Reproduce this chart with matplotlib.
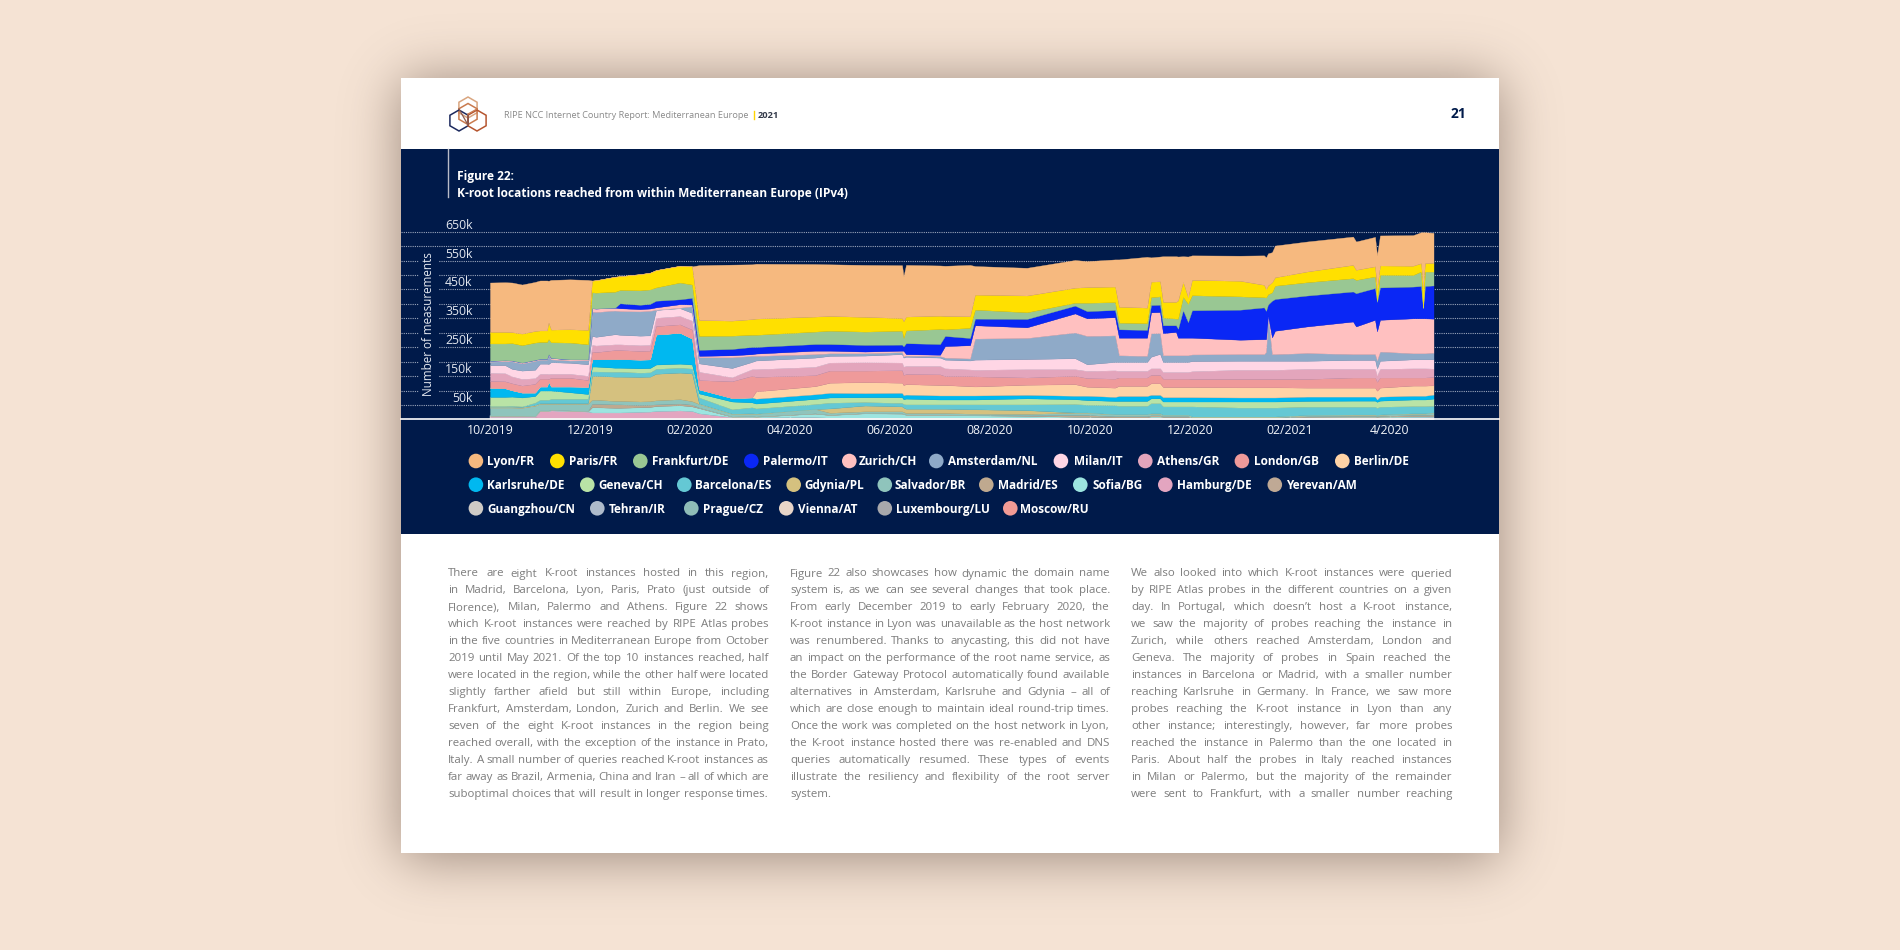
import math
import numpy as np
import matplotlib
matplotlib.use("Agg")
import matplotlib.pyplot as plt
from matplotlib.patches import Rectangle, Circle, RegularPolygon

plt.rcParams['font.family'] = ['Open Sans', 'DejaVu Sans']

# ---------- data (thousands of measurements; x = months since 10/2019) ----------
months = [0, .3, .44, .64, .9, 1.0, 1.14, 1.17, 1.22, 1.6,
          1.96, 2.04, 2.12, 2.5, 2.6, 3.0, 3.2, 3.32, 3.8, 4.04,
          4.18, 4.84, 5.24, 5.32, 6.5, 6.8, 7.5, 8.24, 8.27, 8.32,
          9.0, 9.1, 9.6, 9.7, 10.74, 11.7, 11.94, 12.5, 12.58, 13.14,
          13.22, 13.4, 13.46, 13.72, 13.76, 13.86, 13.96, 14.04, 15.0, 15.48,
          15.52, 15.56, 15.64, 15.7, 16.34, 17.26, 17.32, 17.7, 17.74, 17.8,
          18.46, 18.62, 18.66, 18.7, 18.87]

lyon = [171,172,172,170,170,173,173,144,172,173,
        173,1,0,0,0,0,0,0,0,0,
        190,194,190,190,182,179,180,183,156,179,
        174,174,178,99,96,96,90,94,164,176,
        84,86,158,158,152,89,141,85,87,102,
        110,111,104,110,104,98,98,102,115,104,
        106,107,188,107,104]
paris = [40,40,38,40,40,40,40,58,44,46,
         50,40,43,52,48,56,58,60,58,63,
         55,52,54,56,52,51,51,44,58,48,
         46,46,40,52,58,52,54,54,55,54,
         54,52,54,58,63,52,23,53,54,43,
         29,31,35,29,37,46,35,35,40,32,
         32,29,73,29,30]
frankfurt = [60,58,60,60,60,58,58,52,54,58,
             52,55,55,55,46,50,50,46,58,46,
             48,46,42,42,43,46,46,48,29,44,
             52,23,35,31,23,10,29,27,23,23,
             27,29,27,23,35,46,63,52,46,35,
             46,35,29,46,46,46,46,40,6,44,
             40,50,2,50,48]
palermo = [0,0,0,0,0,0,0,0,0,0,
           0,0,0,0,17,15,16,23,17,23,
           21,22,25,23,23,23,23,21,15,38,
           37,35,25,23,29,27,25,25,29,27,
           25,25,27,23,31,95,54,95,104,110,
           98,40,127,110,107,104,115,110,102,112,
           110,112,35,112,115]
zurich = [3,3,3,3,3,3,3,3,5,4,
          3,12,12,10,10,8,8,8,12,6,
          5,7,6,8,12,9,6,5,20,5,
          5,40,46,46,37,66,61,63,61,63,
          73,73,77,81,61,61,61,58,50,52,
          44,2,58,81,92,113,96,119,100,110,
          121,121,121,121,118]
amsterdam = [12,14,26,25,31,14,14,31,10,8,
             14,84,86,82,82,84,85,1,2,23,
             21,37,21,16,12,9,8,7,4,4,
             5,7,7,73,73,89,98,92,23,21,
             81,72,23,23,23,23,23,23,23,23,
             31,153,23,23,27,20,20,20,29,32,
             21,21,21,21,23]
milan = [27,28,26,29,29,35,35,35,40,38,
         40,31,30,35,33,33,33,27,27,27,
         29,32,25,30,32,23,23,29,31,32,
         29,30,31,35,35,38,23,29,31,31,
         40,50,35,35,35,35,35,35,31,31,
         31,31,31,31,28,31,31,31,23,28,
         31,31,31,31,32]
athens = [28,28,24,23,20,17,17,17,14,14,
          15,23,23,20,20,20,20,29,29,31,
          29,14,23,27,29,28,29,27,29,28,
          29,27,23,23,29,23,25,29,23,23,
          23,23,23,23,23,23,23,27,32,32,
          32,32,32,32,35,30,30,30,23,30,
          32,32,32,32,29]
london = [23,24,24,24,30,27,27,8,30,30,
          23,27,25,31,31,30,30,29,29,31,
          32,58,75,50,38,42,40,43,35,35,
          37,31,35,35,25,29,30,31,29,29,
          29,29,29,29,29,29,29,28,29,29,
          29,29,29,29,30,35,35,35,31,35,
          28,28,28,28,29]
berlin = [0,0,0,0,0,0,0,0,0,0,
          0,0,0,0,0,0,0,0,0,0,
          0,0,0,25,28,35,38,35,35,36,
          36,36,32,31,35,40,31,32,35,35,
          40,40,35,35,35,35,35,35,35,35,
          35,35,35,35,31,31,31,31,30,31,
          35,35,35,35,32]
karlsruhe = [32,30,22,17,12,14,14,32,14,20,
             25,25,25,30,30,30,30,104,107,90,
             14,12,17,17,16,16,14,15,14,14,
             14,14,14,14,12,12,15,14,17,17,
             12,12,15,15,15,15,15,15,14,14,
             14,14,14,14,15,14,14,14,8,14,
             13,13,13,13,14]
geneva = [32,32,32,31,23,32,32,32,29,23,
          17,17,17,14,14,15,15,15,14,14,
          14,27,17,17,18,18,17,20,17,20,
          17,17,17,17,21,17,16,15,17,17,
          17,17,17,17,17,17,17,17,21,21,
          21,21,21,21,20,21,21,21,21,21,
          23,23,23,23,25]
barcelona = [2,2,3,2,8,12,12,12,15,15,
             15,15,15,17,17,15,15,17,17,17,
             21,15,21,18,17,20,12,12,12,15,
             15,15,17,17,20,29,27,31,29,29,
             35,35,29,29,29,29,29,35,31,31,
             31,31,31,31,29,27,27,27,25,27,
             25,25,25,25,23]
gdynia = [3,3,3,3,3,2,2,2,2,2,
          2,83,83,84,84,85,85,92,92,96,
          2,1,1,1,0,15,20,17,15,15,
          15,15,15,15,13,1,1,1,1,1,
          1,1,1,1,1,1,1,1,1,1,
          1,1,1,1,1,1,1,1,1,1,
          1,1,1,1,1]
salvador = [28,28,28,27,35,23,23,23,21,23,
            25,14,14,12,12,12,12,14,15,12,
            12,9,9,9,15,7,6,7,7,5,
            5,5,5,5,5,8,8,6,6,6,
            6,6,4,4,4,4,4,2,2,2,
            2,2,2,2,3,4,4,4,3,4,
            5,5,5,5,6]
madrid = [2,2,2,2,1,1,1,1,1,1,
          1,12,12,12,12,8,8,6,6,6,
          2,1,1,1,1,1,1,1,1,1,
          1,1,1,1,2,6,6,4,4,4,
          4,4,3,3,3,3,3,2,2,2,
          2,2,2,2,3,3,3,3,3,3,
          4,4,4,4,5]
sofia = [1,1,1,1,1,1,1,1,1,1,
         1,18,18,16,16,16,16,17,18,16,
         18,1,2,2,12,9,15,14,12,10,
         10,10,8,8,5,3,3,2,2,2,
         3,3,2,2,2,2,2,1,1,1,
         1,1,1,1,2,2,2,2,2,2,
         3,3,3,3,3]
hamburg = [3,3,3,3,3,23,23,23,25,23,
           21,20,20,20,20,22,23,25,27,25,
           16,1,2,2,2,1,1,1,1,1,
           1,1,1,1,2,2,2,1,1,1,
           1,1,1,1,1,1,1,1,1,1,
           1,1,1,1,1,2,2,2,1,2,
           2,2,2,2,3]
yerevan = [1,1,1,1,1,1,1,1,1,1,1,1,1,1,1,1,1,1,1,1,1,1,
           1,1,1,1,1,1,1,1,1,1,1,1,1,1,1,1,1,1,1,1,1,1,
           1,1,1,1,1,1,1,1,1,1,1,1,1,1,1,1,1,1,1,1,1]
guangzhou = [1,1,1,1,1,1,1,1,1,1,1,1,1,1,1,1,1,1,1,1,1,1,
             1,1,1,1,1,1,1,1,1,1,1,1,1,1,1,1,1,1,1,1,1,1,
             1,1,1,1,1,1,1,1,1,1,1,1,1,1,1,1,1,1,1,1,1]
tehran = [1,1,1,1,1,1,1,1,1,1,1,1,1,1,1,1,1,1,1,1,1,1,
          1,1,1,1,1,1,1,1,1,1,1,1,1,1,1,1,1,1,1,1,1,1,
          1,1,1,1,1,1,1,1,1,1,1,1,1,1,1,1,1,1,1,1,1]
prague = [1,1,1,1,1,1,1,1,1,1,1,1,1,1,1,1,1,1,1,1,1,1,
          1,1,1,1,1,1,1,1,1,1,1,1,1,1,1,1,1,1,1,1,1,1,
          1,1,1,0,0,0,0,0,0,0,1,1,1,1,1,1,1,1,1,1,1]
vienna = [1,1,1,1,1,1,1,1,1,1,1,0,0,0,0,0,0,0,0,0,1,1,
          1,1,1,1,1,1,1,1,1,1,1,1,1,0,0,0,0,0,1,1,1,1,
          1,1,1,0,0,0,0,0,0,0,1,1,1,1,1,1,1,1,1,1,1]
luxembourg = [1,1,1,1,1,1,1,1,1,1,1,0,0,0,0,0,0,0,0,0,0,1,
              1,0,1,0,0,0,0,0,0,0,0,0,0,0,0,0,0,0,1,1,0,0,
              0,0,0,0,0,0,0,0,0,0,0,0,0,0,0,0,1,1,1,1,1]
moscow = [1,1,1,1,1,0,0,0,0,0,0,0,0,0,0,0,0,0,0,0,0,1,
          0,0,0,0,0,0,0,0,0,0,0,0,0,0,0,0,0,0,0,0,0,0,
          0,0,0,0,0,0,0,0,0,0,0,0,0,0,0,0,0,0,0,0,0]

names = ['Lyon/FR','Paris/FR','Frankfurt/DE','Palermo/IT','Zurich/CH','Amsterdam/NL','Milan/IT',
         'Athens/GR','London/GB','Berlin/DE','Karlsruhe/DE','Geneva/CH','Barcelona/ES','Gdynia/PL',
         'Salvador/BR','Madrid/ES','Sofia/BG','Hamburg/DE','Yerevan/AM','Guangzhou/CN','Tehran/IR',
         'Prague/CZ','Vienna/AT','Luxembourg/LU','Moscow/RU']
series = [lyon,paris,frankfurt,palermo,zurich,amsterdam,milan,athens,london,berlin,karlsruhe,geneva,
          barcelona,gdynia,salvador,madrid,sofia,hamburg,yerevan,guangzhou,tehran,prague,vienna,
          luxembourg,moscow]
colors = ['#F6B97F','#FFE000','#99C793','#0A27F5','#FFC0C0','#8FAAC8','#FFD6E5','#E3A5BC','#EF9A9A',
          '#FFD3A6','#00B8F0','#B9E3A6','#64C8D4','#D5C17F','#8FC4BC','#BFA98F','#9CE5E0','#E3A5C0',
          '#BFA995','#CFCBC6','#AEBBCB','#8FBDB8','#E8D5C8','#A8A8AC','#F29B95']

tick_months = [0, 2, 4, 6, 8, 10, 12, 14, 16, 18]
tick_labels = ['10/2019','12/2019','02/2020','04/2020','06/2020','08/2020','10/2020','12/2020','02/2021','4/2020']
y_ticks = [50,100,150,200,250,300,350,400,450,500,550,600,650]
y_labels = ['50k','','150k','','250k','','350k','','450k','','550k','','650k']

legend_rows = [
    [(468.6,487.5),(550,568.6),(633,652),(744,763),(842,859),(929,948),(1053.6,1073.6),(1138,1157),(1234.6,1253.6),(1335,1354)],
    [(468.6,487.5),(580,598.6),(677,695),(786.4,804.6),(877.5,894.6),(979,998),(1073,1092.5),(1158,1177),(1267.5,1286)],
    [(468.6,487.5),(590,609),(684,703),(779,798),(877.5,896),(1003,1020)],
]

col1 = ["There are eight K-root instances hosted in this region,",
        "in Madrid, Barcelona, Lyon, Paris, Prato (just outside of",
        "Florence), Milan, Palermo and Athens. Figure 22 shows",
        "which K-root instances were reached by RIPE Atlas probes",
        "in the five countries in Mediterranean Europe from October",
        "2019 until May 2021. Of the top 10 instances reached, half",
        "were located in the region, while the other half were located",
        "slightly farther afield but still within Europe, including",
        "Frankfurt, Amsterdam, London, Zurich and Berlin. We see",
        "seven of the eight K-root instances in the region being",
        "reached overall, with the exception of the instance in Prato,",
        "Italy. A small number of queries reached K-root instances as",
        "far away as Brazil, Armenia, China and Iran \u2013 all of which are",
        "suboptimal choices that will result in longer response times."]
col2 = ["Figure 22 also showcases how dynamic the domain name",
        "system is, as we can see several changes that took place.",
        "From early December 2019 to early February 2020, the",
        "K-root instance in Lyon was unavailable as the host network",
        "was renumbered. Thanks to anycasting, this did not have",
        "an impact on the performance of the root name service, as",
        "the Border Gateway Protocol automatically found available",
        "alternatives in Amsterdam, Karlsruhe and Gdynia \u2013 all of",
        "which are close enough to maintain ideal round-trip times.",
        "Once the work was completed on the host network in Lyon,",
        "the K-root instance hosted there was re-enabled and DNS",
        "queries automatically resumed. These types of events",
        "illustrate the resiliency and flexibility of the root server",
        "system."]
col3 = ["We also looked into which K-root instances were queried",
        "by RIPE Atlas probes in the different countries on a given",
        "day. In Portugal, which doesn\u2019t host a K-root instance,",
        "we saw the majority of probes reaching the instance in",
        "Zurich, while others reached Amsterdam, London and",
        "Geneva. The majority of probes in Spain reached the",
        "instances in Barcelona or Madrid, with a smaller number",
        "reaching Karlsruhe in Germany. In France, we saw more",
        "probes reaching the K-root instance in Lyon than any",
        "other instance; interestingly, however, far more probes",
        "reached the instance in Palermo than the one located in",
        "Paris. About half the probes in Italy reached instances",
        "in Milan or Palermo, but the majority of the remainder",
        "were sent to Frankfurt, with a smaller number reaching"]

# ---------- page furniture ----------
NAVY = '#001A4A'
PAGE_BG = '#F5E3D4'
W, H = 1900, 950
fig = plt.figure(figsize=(19, 9.5), dpi=100, facecolor=PAGE_BG)


def pixel_axes(z):
    a = fig.add_axes([0, 0, 1, 1], zorder=z)
    a.set_xlim(0, W)
    a.set_ylim(H, 0)
    a.axis('off')
    a.patch.set_alpha(0)
    return a


bg = pixel_axes(0)
fg = pixel_axes(2)

# soft shadow around the page
px, py = np.meshgrid(np.arange(W) + .5, np.arange(H) + .5)
erf = np.vectorize(math.erf)
sigma = 27 * math.sqrt(2)
sx = 0.5 * (erf((px[0] - 401) / sigma) - erf((px[0] - 1499) / sigma))
sy = 0.5 * (erf((py[:, 0] - 80) / sigma) - erf((py[:, 0] - 858) / sigma))
rgba = np.zeros((H, W, 4))
rgba[..., 0], rgba[..., 1], rgba[..., 2] = 90 / 255, 70 / 255, 60 / 255
rgba[..., 3] = 0.58 * np.outer(sy, sx)
bg.imshow(rgba, extent=(0, W, H, 0), aspect='auto', zorder=0, interpolation='bilinear')
bg.set_xlim(0, W)
bg.set_ylim(H, 0)

bg.add_patch(Rectangle((401, 77.5), 1098, 775.5, fc='white', ec='none', zorder=1))
bg.add_patch(Rectangle((401, 148.5), 1098, 385.5, fc=NAVY, ec='none', zorder=2))

# logo
for cx, cy, col in [(468, 107.5, '#D9A57F'), (468, 114, '#C97B4F'), (459, 120.5, '#1D2A5E'), (477, 120.5, '#B5552F')]:
    bg.add_patch(RegularPolygon((cx, cy), 6, radius=10.5, orientation=0, fc='none', ec=col, lw=1.1, zorder=3))
bg.plot([468, 468, 459], [114, 125, 109], color='#8A5A50', lw=0.9, zorder=3)
bg.plot([468, 477], [114, 109], color='#C97B4F', lw=0.9, zorder=3)

fg.text(503.5, 115, 'RIPE NCC Internet Country Report: Mediterranean Europe', color='#8A8A8A',
        fontsize=6.6, va='center', ha='left')
fg.plot([753.5, 753.5], [110.5, 119], color='#FFD500', lw=1)
fg.text(758, 115, '2021', color='#333A4A', fontsize=6.7, fontweight='bold', va='center', ha='left')
fg.text(1458.5, 114, '21', color='#001A4A', fontsize=10, fontweight='bold', va='center', ha='center')

fg.plot([448, 448], [148.5, 197], color='#B8BCC8', lw=1)
fg.text(457, 176.7, 'Figure 22:', color='white', fontsize=8.55, fontweight='bold', va='center', ha='left')
fg.text(457, 193.7, 'K-root locations reached from within Mediterranean Europe (IPv4)', color='white',
        fontsize=8.55, fontweight='bold', va='center', ha='left')

# ---------- chart ----------
ax = fig.add_axes([401 / W, 1 - 419.4 / H, 1098 / W, (419.4 - 225) / H], zorder=1)
ax.patch.set_alpha(0)
ax.set_xlim((401 - 490) / 50, (1499 - 490) / 50)
ax.set_ylim(0, (419.4 - 225) / 187.7 * 650)

stacks = ax.stackplot(months, *series[::-1], colors=colors[::-1], zorder=3)
for poly, c in zip(stacks, colors[::-1]):
    poly.set_edgecolor(c)
    poly.set_linewidth(0.25)

ax.set_yticks(y_ticks)
ax.set_yticklabels(y_labels, color='#E4E8F0', fontsize=8.8, va='bottom')
ax.tick_params(axis='y', length=0, pad=-51.5, direction='in')
ax.grid(axis='y', color='#9AA5BB', lw=0.8, ls=(0, (1, 1)), zorder=1)
ax.set_axisbelow(True)
ax.set_xticks(tick_months)
ax.set_xticklabels(tick_labels, color='#F2F4F8', fontsize=8.8)
ax.tick_params(axis='x', direction='in', length=3.2, width=1, color='white', pad=3.5)
for side in ('top', 'left', 'right'):
    ax.spines[side].set_visible(False)
ax.spines['bottom'].set_color('white')
ax.spines['bottom'].set_linewidth(1.2)
ax.spines['bottom'].set_zorder(5)
for tick in ax.xaxis.get_major_ticks():
    tick.tick1line.set_zorder(6)

fg.text(428.6, 324, 'Number of measurements', rotation=90, color='#E4E8F0', fontsize=8.4, va='center', ha='center',
        bbox=dict(fc=NAVY, ec='none', pad=2.5))

# ---------- legend ----------
idx = 0
for row_y, row in zip([461, 484.7, 508.3], legend_rows):
    for cx, tx in row:
        bg.add_patch(Circle((cx + 7.3, row_y), 7.3, fc=colors[idx], ec='none', zorder=4))
        fg.text(tx, row_y + 0.8, names[idx], color='white', fontsize=8.5, fontweight='bold', va='center', ha='left')
        idx += 1

# ---------- body text, justified ----------
renderer = fig.canvas.get_renderer()


def column(lines, x0, x1, y0, last_left=False):
    for i, line in enumerate(lines):
        y = y0 + i * 16.95
        words = line.split()
        arts = [fg.text(0, y, w, color='#7D7D7D', fontsize=8.25, va='center', ha='left') for w in words]
        widths = [t.get_window_extent(renderer).width for t in arts]
        if last_left and i == len(lines) - 1 or len(words) == 1:
            gap = 3.0
        else:
            gap = (x1 - x0 - sum(widths)) / (len(words) - 1)
        x = x0
        for t, w in zip(arts, widths):
            t.set_x(x)
            x += w + gap


column(col1, 448, 768.7, 574)
column(col2, 790, 1110, 574, last_left=True)
column(col3, 1131, 1452, 574)

fig.savefig('out.png', dpi=100, facecolor=PAGE_BG)
